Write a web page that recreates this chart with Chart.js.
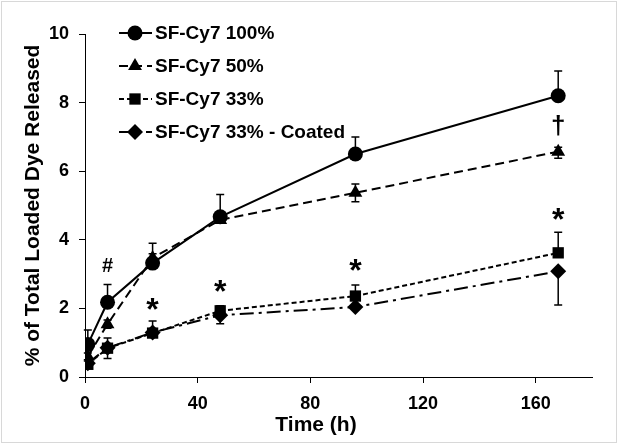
<!DOCTYPE html>
<html>
<head>
<meta charset="utf-8">
<script src="https://cdn.jsdelivr.net/npm/chart.js@4"></script>
<style>
    html, body { margin: 0; padding: 0; background: #fff; }
    #wrap { width: 621px; height: 448px; position: relative; }
</style>
</head>
<body>
<div id="wrap"><canvas id="releaseChart"></canvas></div>
<script>
// ----------------------
//  DATA
// ----------------------
const times = [1, 8, 24, 48, 96, 168];

const seriesNames = ['SF-Cy7 100%', 'SF-Cy7 50%', 'SF-Cy7 33%', 'SF-Cy7 33% - Coated'];

const sf100 = [0.95, 2.18, 3.32, 4.67, 6.5, 8.2];
const sf100Up = [0.42, 0.52, 0.58, 0.65, 0.5, 0.72];
const sf100Down = [0, 0, 0, 0, 0, 0];

const sf50 = [0.6, 1.54, 3.47, 4.58, 5.37, 6.57];
const sf50Up = [0.1, 0.12, 0.12, 0.1, 0.26, 0.13];
const sf50Down = [0.1, 0.12, 0.12, 0.1, 0.26, 0.19];

const sf33 = [0.37, 0.84, 1.28, 1.93, 2.36, 3.62];
const sf33Up = [0.1, 0.3, 0.35, 0.15, 0.32, 0.6];
const sf33Down = [0, 0.3, 0, 0, 0, 0];

const coated = [0.4, 0.85, 1.3, 1.8, 2.04, 3.08];
const coatedUp = [0, 0, 0, 0, 0, 0];
const coatedDown = [0, 0, 0, 0.25, 0, 0.98];

// significance marks: text, time, y value
const markText = ['#', '*', '*', '*', '*', '\u2020'];
const markTime = [8, 24, 48, 96, 168, 168];
const markY = [3.22, 2.08, 2.62, 3.22, 4.72, 7.33];

const xTicks = [0, 40, 80, 120, 160];
const xTitle = 'Time (h)';

// ----------------------
//  CHART
// ----------------------
const FONT = 'Arial, "Liberation Sans", sans-serif';
Chart.defaults.font.family = FONT;
Chart.defaults.color = '#000';

function toPoints(vals) {
    return vals.map((v, i) => ({ x: times[i], y: v }));
}

function makeSet(label, vals, up, down, style, dash, radius) {
    return {
        label: label,
        data: toPoints(vals),
        errUp: up,
        errDown: down,
        borderColor: '#000',
        backgroundColor: '#000',
        borderWidth: 2,
        borderDash: dash,
        pointStyle: style,
        pointRadius: radius,
        pointBorderWidth: 0,
        pointBackgroundColor: '#000',
        pointBorderColor: '#000',
        tension: 0,
        fill: false,
    };
}

const chartData = {
    datasets: [
        makeSet(seriesNames[0], sf100, sf100Up, sf100Down, 'circle', [], 7.5),
        makeSet(seriesNames[1], sf50, sf50Up, sf50Down, 'triangle', [9, 5], 8),
        makeSet(seriesNames[2], sf33, sf33Up, sf33Down, 'rect', [5, 3], 8),
        makeSet(seriesNames[3], coated, coatedUp, coatedDown, 'rectRot', [14, 5, 3, 5], 8),
    ]
};

// error bars drawn under the markers
const errorBars = {
    id: 'errorBars',
    beforeDatasetsDraw(chart) {
        const ctx = chart.ctx;
        const xs = chart.scales.x;
        const ys = chart.scales.y;
        ctx.save();
        ctx.strokeStyle = '#000';
        ctx.lineWidth = 1.5;
        chart.data.datasets.forEach(ds => {
            ds.data.forEach((p, i) => {
                const px = xs.getPixelForValue(p.x);
                const ends = [];
                if (ds.errUp[i] > 0) ends.push(ys.getPixelForValue(p.y + ds.errUp[i]));
                if (ds.errDown[i] > 0) ends.push(ys.getPixelForValue(p.y - ds.errDown[i]));
                const py = ys.getPixelForValue(p.y);
                ends.forEach(ey => {
                    ctx.beginPath();
                    ctx.moveTo(px, py);
                    ctx.lineTo(px, ey);
                    ctx.moveTo(px - 4, ey);
                    ctx.lineTo(px + 4, ey);
                    ctx.stroke();
                });
            });
        });
        ctx.restore();
    }
};

// #, * and dagger marks above the points
const sigMarks = {
    id: 'sigMarks',
    afterDatasetsDraw(chart) {
        const ctx = chart.ctx;
        const xs = chart.scales.x;
        const ys = chart.scales.y;
        ctx.save();
        ctx.fillStyle = '#000';
        ctx.textAlign = 'center';
        ctx.textBaseline = 'middle';
        markText.forEach((t, i) => {
            let size = 20, dy = 0;
            if (t === '*') { size = 32; dy = 6; }
            if (t === '\u2020') { size = 26; dy = 1; }
            ctx.font = 'bold ' + size + 'px ' + FONT;
            ctx.fillText(t, xs.getPixelForValue(markTime[i]), ys.getPixelForValue(markY[i]) + dy);
        });
        ctx.restore();
    }
};

// legend with line sample + marker
const lineLegend = {
    id: 'lineLegend',
    afterDraw(chart) {
        const ctx = chart.ctx;
        ctx.save();
        chart.data.datasets.forEach((ds, i) => {
            const y = 33 + i * 33;
            const x0 = 119, x1 = 152;
            ctx.strokeStyle = '#000';
            ctx.lineWidth = 2;
            ctx.setLineDash(ds.borderDash);
            ctx.beginPath();
            ctx.moveTo(x0, y);
            ctx.lineTo(x1, y);
            ctx.stroke();
            ctx.setLineDash([]);
            ctx.fillStyle = '#000';
            Chart.helpers.drawPoint(ctx, { pointStyle: ds.pointStyle, radius: ds.pointRadius, borderWidth: 0 }, 135, y);
            ctx.font = 'bold 19px ' + FONT;
            ctx.textBaseline = 'middle';
            ctx.fillText(ds.label, 155, y + 1);
        });
        ctx.restore();
    }
};

// x title sits a little left of the plot centre in the original
const xTitlePlugin = {
    id: 'xTitlePlugin',
    afterDraw(chart) {
        const ctx = chart.ctx;
        ctx.save();
        ctx.fillStyle = '#000';
        ctx.font = 'bold 21px ' + FONT;
        ctx.textAlign = 'center';
        ctx.textBaseline = 'middle';
        ctx.fillText(xTitle, 316, 425);
        ctx.restore();
    }
};

const frame = {
    id: 'frame',
    beforeDraw(chart) {
        const ctx = chart.ctx;
        ctx.save();
        ctx.fillStyle = '#fff';
        ctx.fillRect(0, 0, chart.width, chart.height);
        ctx.strokeStyle = '#d8d8d8';
        ctx.lineWidth = 1;
        ctx.strokeRect(1.5, 1.5, 615, 441);
        ctx.restore();
    }
};

const options = {
    maintainAspectRatio: false,
    responsive: true,
    animation: false,
    layout: {
        padding: { top: 34, right: 29, bottom: 0, left: 0 }
    },
    plugins: {
        legend: { display: false },
        tooltip: { enabled: false },
    },
    scales: {
        x: {
            type: 'linear',
            min: 0,
            max: 180,
            afterBuildTicks: function (scale) {
                scale.ticks = xTicks.map(v => ({ value: v }));
            },
            afterFit: function (scale) {
                scale.height = 71;
            },
            title: { display: false },
            ticks: {
                font: { size: 18, weight: 'bold' },
                padding: 10,
                maxRotation: 0,
            },
            grid: {
                display: true,
                drawOnChartArea: false,
                drawTicks: true,
                tickLength: 6,
                color: '#000',
                lineWidth: 1,
            },
            border: { color: '#000', width: 1 },
        },
        y: {
            min: 0,
            max: 10,
            afterFit: function (scale) {
                scale.width = 85;
            },
            title: {
                display: true,
                text: '% of Total Loaded Dye Released',
                font: { size: 21, weight: 'bold' },
                padding: { top: 21, bottom: 0 },
            },
            ticks: {
                stepSize: 2,
                font: { size: 18, weight: 'bold' },
                padding: 10,
            },
            grid: {
                display: true,
                drawOnChartArea: false,
                drawTicks: true,
                tickLength: 6,
                color: '#000',
                lineWidth: 1,
            },
            border: { color: '#000', width: 1 },
        }
    },
};

let ctx = document.getElementById('releaseChart').getContext('2d');
let releaseChart = new Chart(ctx, {
    type: 'line',
    data: chartData,
    options: options,
    plugins: [frame, errorBars, sigMarks, lineLegend, xTitlePlugin],
});
</script>
</body>
</html>
